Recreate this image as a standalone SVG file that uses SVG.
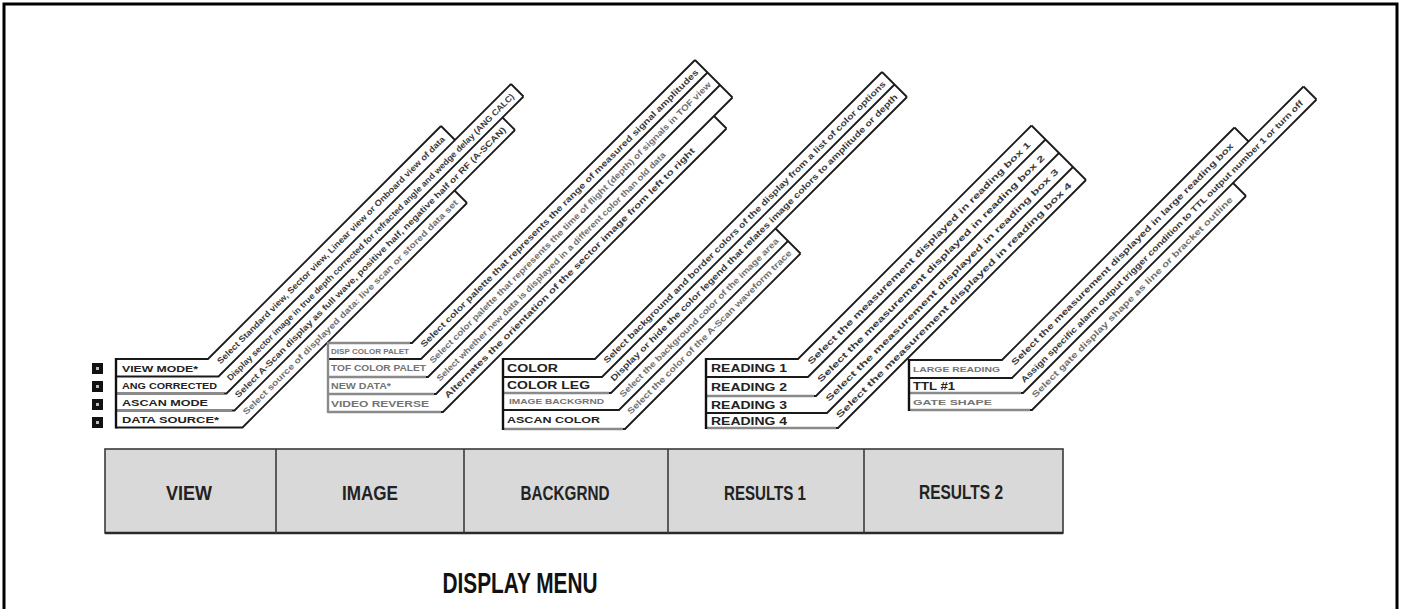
<svg xmlns="http://www.w3.org/2000/svg" width="1402" height="609" viewBox="0 0 1402 609">
<style>
.ln{fill:none;stroke:#1a1a1a;stroke-width:1.8;stroke-linejoin:miter}
.lg{fill:none;stroke:#8a8a8a;stroke-width:2.4}
.vb{stroke:#111;stroke-width:2.4}
.st{font-family:"Liberation Sans",Arial,sans-serif;font-weight:bold;font-size:8.5px;fill:#3a3a3a}
.sg{fill:#707070}
.lb{font-family:"Liberation Sans",Arial,sans-serif;font-weight:bold;fill:#222}
.lbg{fill:#737373}
.mt{font-family:"Liberation Sans",Arial,sans-serif;font-weight:bold;font-size:20px;fill:#222;text-anchor:middle}
.key{fill:#111}
.keyi{fill:#bdbdbd}
</style>

<!-- outer frame -->
<path d="M4,609 V4 H1397 V609" fill="none" stroke="#000" stroke-width="3"/>

<!-- key icons -->
<g id="keys">
<rect class="key" x="92" y="363" width="11" height="11"/><rect class="keyi" x="96" y="367" width="3" height="3"/>
<rect class="key" x="92" y="381" width="11" height="11"/><rect class="keyi" x="96" y="385" width="3" height="3"/>
<rect class="key" x="92" y="399" width="11" height="11"/><rect class="keyi" x="96" y="403" width="3" height="3"/>
<rect class="key" x="92" y="417" width="11" height="11"/><rect class="keyi" x="96" y="421" width="3" height="3"/>
</g>

<!-- VIEW group -->
<g id="view-sub">
<polyline class="ln" points="116,359 208,359 441,126"/>
<polyline class="ln" points="116,376.5 218.5,376.5 511,84"/>
<polyline class="ln" points="116,393.5 226.5,393.5 523.5,96.5"/>
<polyline class="ln" points="116,410.5 234.5,410.5 515,130"/>
<polyline class="ln" points="116,427.5 242.5,427.5 467,203"/>
<line class="ln" x1="441" y1="126" x2="455" y2="140"/>
<line class="ln" x1="511" y1="84" x2="523.5" y2="96.5"/>
<line class="ln" x1="502.5" y1="117.5" x2="515" y2="130"/>
<line class="ln" x1="454.5" y1="190.5" x2="467" y2="203"/>
<line class="lg" x1="117" y1="393.5" x2="224" y2="393.5"/>
<line class="lg" x1="117" y1="410.5" x2="232" y2="410.5"/>
<line class="vb" x1="116" y1="358" x2="116" y2="428.5"/>
<text class="lb" font-size="9.5" x="122" y="371.5" textLength="76" lengthAdjust="spacingAndGlyphs">VIEW MODE*</text>
<text class="lb" font-size="9.5" x="122" y="388.5" textLength="95" lengthAdjust="spacingAndGlyphs">ANG CORRECTED</text>
<text class="lb" font-size="9.5" x="122" y="405.5" textLength="86" lengthAdjust="spacingAndGlyphs">ASCAN MODE</text>
<text class="lb" font-size="9.5" x="122" y="422.5" textLength="97" lengthAdjust="spacingAndGlyphs">DATA SOURCE*</text>
<g transform="rotate(-45)" class="st">
<text x="-101.8" y="413.8" textLength="318" lengthAdjust="spacingAndGlyphs">Select Standard view, Sector view, Linear view or Onboard view of data</text>
<text x="-106.7" y="432.6" textLength="402" lengthAdjust="spacingAndGlyphs">Display sector image in true depth corrected for refracted angle and wedge delay (ANG CALC)</text>
<text x="-113.1" y="450.2" textLength="379" lengthAdjust="spacingAndGlyphs">Select A-Scan display as full wave, positive half, negative half or RF (A-SCAN)</text>
<text class="sg" x="-119.5" y="467.9" textLength="300" lengthAdjust="spacingAndGlyphs">Select source of displayed data: live scan or stored data set</text>
</g>
</g>

<!-- IMAGE group -->
<g id="image-sub">
<polyline class="ln" points="328,343 412,343 695,60"/>
<polyline class="ln" points="328,359 421,359 707.5,72.5"/>
<polyline class="ln" points="328,377 428,377 720,85"/>
<polyline class="ln" points="328,394 436,394 732.5,97.5"/>
<polyline class="ln" points="328,412 443,412 726.5,128.5"/>
<line class="ln" x1="695" y1="60" x2="732.5" y2="97.5"/>
<line class="ln" x1="714" y1="116" x2="726.5" y2="128.5"/>
<line class="lg" x1="328" y1="343" x2="410" y2="343"/>
<line class="lg" x1="328" y1="377" x2="426" y2="377"/>
<line class="lg" x1="328" y1="394" x2="434" y2="394"/>
<line class="lg" x1="328" y1="412" x2="441" y2="412"/>
<line x1="328" y1="342" x2="328" y2="413" stroke="#8a8a8a" stroke-width="2.4"/>
<text class="lb lbg" font-size="6.5" x="331" y="353.5" textLength="78" lengthAdjust="spacingAndGlyphs">DISP COLOR PALET</text>
<text class="lb lbg" font-size="8.5" x="331" y="371" textLength="95" lengthAdjust="spacingAndGlyphs">TOF COLOR PALET</text>
<text class="lb lbg" font-size="8.5" x="331" y="388.5" textLength="60" lengthAdjust="spacingAndGlyphs">NEW DATA*</text>
<text class="lb lbg" font-size="9" x="331" y="406.5" textLength="98" lengthAdjust="spacingAndGlyphs">VIDEO REVERSE</text>
<g transform="rotate(-45)" class="st">
<text x="53.8" y="545.7" textLength="389" lengthAdjust="spacingAndGlyphs">Select color palette that represents the range of measured signal amplitudes</text>
<text class="sg" x="48.8" y="563.4" textLength="394" lengthAdjust="spacingAndGlyphs">Select color palette that represents the time of flight (depth) of signals in TOF view</text>
<text class="sg" x="41.1" y="581.1" textLength="320" lengthAdjust="spacingAndGlyphs">Select whether new data is displayed in a different color than old data</text>
<text x="34.7" y="598.7" textLength="350" lengthAdjust="spacingAndGlyphs">Alternates the orientation of the sector image from left to right</text>
</g>
</g>

<!-- BACKGRND group -->
<g id="backgrnd-sub">
<polyline class="ln" points="503,359 595,359 882,72"/>
<polyline class="ln" points="503,377 602,377 894.5,84.5"/>
<polyline class="ln" points="503,393 611,393 907,97"/>
<polyline class="ln" points="503,410 619,410 788,241"/>
<polyline class="ln" points="503,429 625,429 800.5,253.5"/>
<line class="ln" x1="882" y1="72" x2="907" y2="97"/>
<line class="ln" x1="775.5" y1="228.5" x2="800.5" y2="253.5"/>
<line class="lg" x1="504" y1="393" x2="609" y2="393"/>
<line class="lg" x1="504" y1="429" x2="623" y2="429"/>
<line class="vb" x1="503" y1="358" x2="503" y2="430" stroke-width="2.8"/>
<text class="lb" font-size="10" x="507" y="372" textLength="51" lengthAdjust="spacingAndGlyphs">COLOR</text>
<text class="lb" font-size="10" x="507" y="389" textLength="83" lengthAdjust="spacingAndGlyphs">COLOR LEG</text>
<text class="lb lbg" font-size="6.5" x="509" y="404" textLength="95" lengthAdjust="spacingAndGlyphs">IMAGE BACKGRND</text>
<text class="lb" font-size="9" fill="#555" x="507" y="423" textLength="93" lengthAdjust="spacingAndGlyphs">ASCAN COLOR</text>
<g transform="rotate(-45)" class="st">
<text x="171.9" y="686.4" textLength="395" lengthAdjust="spacingAndGlyphs">Select background and border colors of the display from a list of color options</text>
<text x="164.1" y="704.1" textLength="402" lengthAdjust="spacingAndGlyphs">Display or hide the color legend that relates image colors to amplitude or depth</text>
<text class="sg" x="159.2" y="721.8" textLength="221" lengthAdjust="spacingAndGlyphs">Select the background color of the image area</text>
<text class="sg" x="152.8" y="739.4" textLength="228" lengthAdjust="spacingAndGlyphs">Select the color of the A-Scan waveform trace</text>
</g>
</g>

<!-- RESULTS 1 group -->
<g id="results1-sub">
<polyline class="ln" points="706,359 798,359 1031.5,125.5"/>
<polyline class="ln" points="706,377 808,377 1045.5,139.5"/>
<polyline class="ln" points="706,396 816,396 1059,153"/>
<polyline class="ln" points="706,413 827,413 1073,167"/>
<polyline class="ln" points="706,428 838,428 1086,180"/>
<line class="ln" x1="1031.5" y1="125.5" x2="1086" y2="180"/>
<line class="lg" x1="707" y1="396" x2="814" y2="396"/>
<line class="lg" x1="707" y1="428" x2="836" y2="428"/>
<line class="vb" x1="706" y1="358" x2="706" y2="429"/>
<text class="lb" font-size="10.5" x="711" y="372" textLength="76" lengthAdjust="spacingAndGlyphs">READING 1</text>
<text class="lb" font-size="10.5" x="711" y="391" textLength="76" lengthAdjust="spacingAndGlyphs">READING 2</text>
<text class="lb" font-size="10.5" x="711" y="409" textLength="76" lengthAdjust="spacingAndGlyphs">READING 3</text>
<text class="lb" font-size="10.5" x="711" y="425" textLength="76" lengthAdjust="spacingAndGlyphs">READING 4</text>
<g transform="rotate(-45)" class="st" font-size="10">
<text x="315.4" y="831.6" textLength="311" lengthAdjust="spacingAndGlyphs">Select the measurement displayed in reading box 1</text>
<text x="309.8" y="851.1" textLength="317" lengthAdjust="spacingAndGlyphs">Select the measurement displayed in reading box 2</text>
<text x="302" y="870.5" textLength="325" lengthAdjust="spacingAndGlyphs">Select the measurement displayed in reading box 3</text>
<text x="297.7" y="889.6" textLength="329" lengthAdjust="spacingAndGlyphs">Select the measurement displayed in reading box 4</text>
</g>
</g>

<!-- RESULTS 2 group -->
<g id="results2-sub">
<polyline class="ln" points="909,360 1002,360 1234.5,127.5"/>
<polyline class="ln" points="909,378 1012,378 1303.5,86.5"/>
<polyline class="ln" points="909,393 1023,393 1316.5,99.5"/>
<polyline class="ln" points="909,410 1032,410 1246,196"/>
<line class="ln" x1="1234.5" y1="127.5" x2="1248.5" y2="141.5"/>
<line class="ln" x1="1303.5" y1="86.5" x2="1316.5" y2="99.5"/>
<line class="ln" x1="1233" y1="183" x2="1246" y2="196"/>
<line class="lg" x1="910" y1="393" x2="1021" y2="393"/>
<line class="lg" x1="910" y1="410" x2="1030" y2="410"/>
<line class="vb" x1="909" y1="359" x2="909" y2="411" stroke-width="2.8"/>
<text class="lb lbg" font-size="7.5" x="913" y="372" textLength="87" lengthAdjust="spacingAndGlyphs">LARGE READING</text>
<text class="lb" font-size="10" x="913" y="389.5" textLength="42" lengthAdjust="spacingAndGlyphs">TTL #1</text>
<text class="lb lbg" font-size="8" x="913" y="404.5" textLength="79" lengthAdjust="spacingAndGlyphs">GATE SHAPE</text>
<g transform="rotate(-45)" class="st" font-size="9">
<text x="459" y="976.2" textLength="310" lengthAdjust="spacingAndGlyphs">Select the measurement displayed in large reading box</text>
<text x="453.3" y="995.3" textLength="395" lengthAdjust="spacingAndGlyphs">Assign specific alarm output trigger condition to TTL output number 1 or turn off</text>
<text class="sg" x="450.5" y="1013.6" textLength="280" lengthAdjust="spacingAndGlyphs">Select gate display shape as line or bracket outline</text>
</g>
</g>

<!-- menu bar -->
<g id="menu-bar">
<rect x="105" y="449" width="958" height="84" fill="#d9d9d9" stroke="#3a3a3a" stroke-width="1.6"/>
<line x1="105" y1="533" x2="1063" y2="533" stroke="#2a2a2a" stroke-width="2.6"/>
<line x1="276" y1="449" x2="276" y2="533" stroke="#3a3a3a" stroke-width="1.6"/>
<line x1="464" y1="449" x2="464" y2="533" stroke="#3a3a3a" stroke-width="1.6"/>
<line x1="668" y1="449" x2="668" y2="533" stroke="#3a3a3a" stroke-width="1.6"/>
<line x1="864" y1="449" x2="864" y2="533" stroke="#3a3a3a" stroke-width="1.6"/>
</g>
<g id="menu-view"><text class="mt" x="189" y="500" textLength="46" lengthAdjust="spacingAndGlyphs">VIEW</text></g>
<g id="menu-image"><text class="mt" x="370" y="500" textLength="56" lengthAdjust="spacingAndGlyphs">IMAGE</text></g>
<g id="menu-backgrnd"><text class="mt" x="565" y="500" textLength="89" lengthAdjust="spacingAndGlyphs">BACKGRND</text></g>
<g id="menu-results1"><text class="mt" x="765" y="500" textLength="82" lengthAdjust="spacingAndGlyphs">RESULTS 1</text></g>
<g id="menu-results2"><text class="mt" x="961" y="499" textLength="84" lengthAdjust="spacingAndGlyphs">RESULTS 2</text></g>

<g id="title"><text x="520" y="593" font-family="'Liberation Sans',Arial,sans-serif" font-weight="bold" font-size="29" fill="#111" text-anchor="middle" textLength="155" lengthAdjust="spacingAndGlyphs">DISPLAY MENU</text></g>
</svg>
